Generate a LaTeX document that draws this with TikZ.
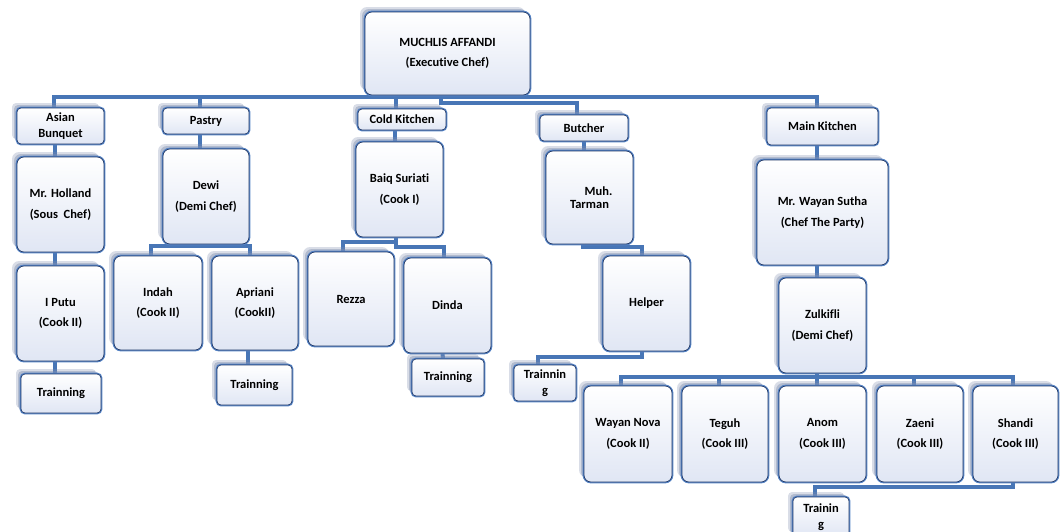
\documentclass[tikz,border=0pt]{standalone}
\usepackage{fontspec}
\setmainfont[Ligatures=CommonOff]{Carlito}
\usetikzlibrary{shadows,backgrounds}
\definecolor{wirecol}{RGB}{72,118,182}
\definecolor{bblue}{RGB}{86,132,198}
\definecolor{bnavy}{RGB}{34,58,104}
\definecolor{bfill}{RGB}{224,230,244}
\definecolor{shad}{RGB}{130,144,176}
\tikzset{
  box/.style={
    general shadow={shadow xshift=-5pt, shadow yshift=5pt, fill=shad, fill opacity=0.3},
    general shadow={shadow xshift=-3pt, shadow yshift=3pt, fill=shad, fill opacity=0.45},
    preaction={draw=bblue, line width=2.8pt},
    top color=white, bottom color=bfill, draw=bnavy, line width=0.7pt,
    inner sep=0pt, align=center, text=black},
  big/.style={box, rounded corners=7pt, font=\bfseries\fontsize{12.5}{20.5}\selectfont},
  small/.style={box, rounded corners=4pt, font=\bfseries\fontsize{12.5}{15.5}\selectfont},
  sz/.style 2 args={minimum width=#1pt, minimum height=#2pt},
  wire/.style={draw=wirecol, line width=4pt}
}
\begin{document}
\begin{tikzpicture}[x=1pt, y=-1pt]
\useasboundingbox (0,0) rectangle (1063,531);
% top
\node[big, sz={165}{83}] (muchlis) at (447.5,53.5) {MUCHLIS AFFANDI\\(Executive Chef)};
% Asian Bunquet column
\node[small, sz={87}{36}] (asian) at (60.5,126) {Asian\\Bunquet};
\node[big, sz={87}{95}] (holland) at (60.5,204.5) {Mr. Holland\\(Sous\ \ Chef)};
\node[big, sz={87}{95}] (iputu) at (60.5,313.5) {I Putu\\(Cook II)};
\node[small, sz={80}{39}] (trainA) at (61,393.5) {Trainning};
% Pastry column
\node[small, sz={86}{26}] (pastry) at (206,121) {Pastry};
\node[big, sz={86}{95}] (dewi) at (206,196.5) {Dewi\\(Demi Chef)};
\node[big, sz={88}{94}] (indah) at (158,303) {Indah\\(Cook II)};
\node[big, sz={86}{94}] (apriani) at (255,303) {Apriani\\(CookII)};
\node[small, sz={75}{40}] (trainP) at (254.5,385) {Trainning};
% Cold Kitchen column
\node[small, sz={88}{21}] (cold) at (402,119.5) {Cold Kitchen};
\node[big, sz={87}{95}] (baiq) at (399.5,189.5) {Baiq Suriati\\(Cook I)};
\node[big, sz={86}{94}] (rezza) at (351,299) {Rezza};
\node[big, sz={87}{95}] (dinda) at (447.5,305.5) {Dinda};
\node[small, sz={72}{37}] (trainC) at (448,377.5) {Trainning};
% Butcher column
\node[small, sz={88}{26}] (butcher) at (584,128) {Butcher};
\node[big, sz={87}{93}, font=\bfseries\fontsize{12.5}{13.5}\selectfont] (tarman) at (589.5,197.5) {\hspace*{18pt}Muh.\\Tarman};
\node[big, sz={87}{95}] (helper) at (646.5,303.5) {Helper};
\node[small, sz={62}{36}] (trainB) at (545,383) {Trainnin\\g};
% Main Kitchen column
\node[small, sz={111}{37}] (mainK) at (822.5,126.5) {Main Kitchen};
\node[big, sz={131}{105}] (sutha) at (822.5,212.5) {Mr. Wayan Sutha\\(Chef The Party)};
\node[big, sz={87}{95}] (zulk) at (822.5,325.5) {Zulkifli\\(Demi Chef)};
\node[big, sz={88}{96}] (wayan) at (628,434) {Wayan Nova\\(Cook II)};
\node[big, sz={86}{96}] (teguh) at (725,434) {Teguh\\(Cook III)};
\node[big, sz={87}{96}] (anom) at (822.5,434) {Anom\\(Cook III)};
\node[big, sz={86}{96}] (zaeni) at (920,434) {Zaeni\\(Cook III)};
\node[big, sz={85}{96}] (shandi) at (1015.5,434) {Shandi\\(Cook III)};
\node[small, sz={56}{40}] (trainD) at (821,517) {Trainin\\g};
% connectors
\begin{scope}[on background layer]
\draw[wire] ([xshift=-6.5pt]asian.north) -- ++(0,-11) -| ([xshift=-5.5pt]mainK.north);
\draw[wire] ([xshift=-6pt]pastry.north) -- ++(0,-11);
\draw[wire] ([xshift=-6pt]cold.north) -- ++(0,-12);
\draw[wire] ([xshift=-6.5pt]muchlis.south) -- ++(0,8) -| ([xshift=-7pt]butcher.north);
\draw[wire] ([xshift=-5.5pt]asian.south) -- ([xshift=-5.5pt]holland.north);
\draw[wire] ([xshift=-5.5pt]holland.south) -- ([xshift=-5.5pt]iputu.north);
\draw[wire] ([xshift=-5.5pt]iputu.south) -- ([xshift=-6pt]trainA.north);
\draw[wire] ([xshift=-6pt]pastry.south) -- ([xshift=-6pt]dewi.north);
\draw[wire] ([xshift=-6pt]dewi.south) -- ++(0,2) -| ([xshift=-7pt]indah.north);
\draw[wire] ([xshift=-6pt]dewi.south) -- ++(0,2) -| ([xshift=-5pt]apriani.north);
\draw[wire] ([xshift=-7pt]apriani.south) -- ([xshift=-6.5pt]trainP.north);
\draw[wire] ([xshift=-7pt]cold.south) -- ([xshift=-4.5pt]baiq.north);
\draw[wire] ([xshift=-3.5pt]baiq.south) -- ++(0,5) -| ([xshift=-8pt]rezza.north);
\draw[wire] ([xshift=-3.5pt]baiq.south) -- ++(0,10) -| ([xshift=-3.5pt]dinda.north);
\draw[wire] ([xshift=-5pt]dinda.south) -- ([xshift=-5pt]trainC.north);
\draw[wire] (butcher.south) -- ([xshift=-5.5pt]tarman.north);
\draw[wire] ([xshift=-6.5pt]tarman.south) -- ++(0,3) -| ([xshift=-4.5pt]helper.north);
\draw[wire] ([xshift=-4.5pt]helper.south) -- ++(0,6) -| ([xshift=-7pt]trainB.north);
\draw[wire] ([xshift=-5.5pt]mainK.south) -- ([xshift=-5.5pt]sutha.north);
\draw[wire] ([xshift=-5.5pt]sutha.south) -- ([xshift=-5.5pt]zulk.north);
\draw[wire] ([xshift=-5.5pt]zulk.south) -- ++(0,4) -| ([xshift=-7pt]wayan.north);
\draw[wire] ([xshift=-5.5pt]zulk.south) -- ++(0,4) -| ([xshift=-2.5pt]shandi.north);
\draw[wire] ([xshift=-6pt]teguh.north) -- ++(0,-9);
\draw[wire] ([xshift=-5.5pt]anom.north) -- ++(0,-9);
\draw[wire] ([xshift=-6pt]zaeni.north) -- ++(0,-9);
\draw[wire] ([xshift=-2.5pt]shandi.south) -- ++(0,5) -| ([xshift=-6pt]trainD.north);
\end{scope}
\end{tikzpicture}
\end{document}
